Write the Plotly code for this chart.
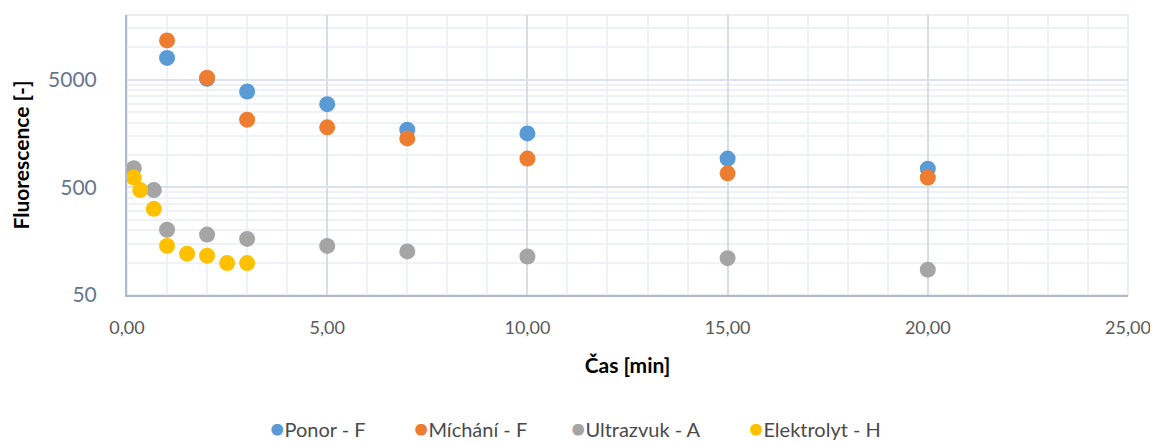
import plotly.graph_objects as go
import math

# ---- data ----
ponor_x = [1, 2, 3, 5, 7, 10, 15, 20]
ponor_y = [7980, 5100, 3890, 2965, 1717, 1587, 927, 747]

michani_x = [1, 2, 3, 5, 7, 10, 15, 20]
michani_y = [11600, 5220, 2128, 1807, 1426, 927, 676, 617]

ultrazvuk_x = [0.17, 0.67, 1, 2, 3, 5, 7, 10, 15, 20]
ultrazvuk_y = [753, 472, 202, 182, 166, 143, 127, 114, 110, 86]

elektrolyt_x = [0.17, 0.33, 0.67, 1, 1.5, 2, 2.5, 3]
elektrolyt_y = [617, 472, 316, 143, 121, 116, 99, 99]

series_names = ["Ponor - F", "Míchání - F", "Ultrazvuk - A", "Elektrolyt - H"]
series_colors = ["#5B9BD5", "#ED7D31", "#A5A5A5", "#FFC000"]

x_ticks = [0, 5, 10, 15, 20, 25]
x_tick_labels = ["0,00", "5,00", "10,00", "15,00", "20,00", "25,00"]
y_ticks = [50, 500, 5000]
y_tick_labels = ["50", "500", "5000"]

# minor log gridlines: multiples of the decade base (50, 500, 5000)
y_minor = [b * k for b in (50, 500, 5000) for k in range(2, 10)]
y_minor = [v for v in y_minor if v <= 20000]

font_family = "Lato, 'Open Sans', sans-serif"

# the page body has an 8 px margin, so the figure is 8 px smaller and offset
W, H = 1150, 435
ML, MR, MT, MB = 119, 30, 7, 148
plot_w = W - ML - MR
plot_h = H - MT - MB

fig = go.Figure()
for xs, ys, name, col in zip(
    [ponor_x, michani_x, ultrazvuk_x, elektrolyt_x],
    [ponor_y, michani_y, ultrazvuk_y, elektrolyt_y],
    series_names, series_colors):
    fig.add_trace(go.Scatter(
        x=xs, y=ys, name=name, mode="markers",
        marker=dict(color=col, size=16, line=dict(width=0)),
        showlegend=False,
    ))

fig.update_layout(
    width=W, height=H,
    margin=dict(l=ML, r=MR, t=MT, b=MB),
    paper_bgcolor="white", plot_bgcolor="white",
    font=dict(family=font_family, size=18, color="#595959"),
    showlegend=False,
    xaxis=dict(
        range=[0, 25], tickvals=x_ticks, ticktext=x_tick_labels,
        automargin=False,
        showgrid=True, gridcolor="#D8DDE5", gridwidth=1.5,
        minor=dict(dtick=1, showgrid=True, gridcolor="#EEF1F5", gridwidth=1.5),
        showline=True, linecolor="#AEB9CA", linewidth=2, mirror=False,
        zeroline=False, ticks="", ticklabelstandoff=15,
        tickfont=dict(size=18, color="#595959"),
        title=dict(text="<b>Čas [min]</b>", font=dict(size=21, color="#000000"), standoff=22),
    ),
    yaxis=dict(
        type="log", range=[math.log10(50), math.log10(20000)],
        tickvals=y_ticks, ticktext=y_tick_labels,
        automargin=False,
        showgrid=True, gridcolor="#DCE2EA", gridwidth=1.5,
        minor=dict(tickvals=y_minor, showgrid=True, gridcolor="#EEF1F5", gridwidth=1.5),
        showline=True, linecolor="#AEB9CA", linewidth=2,
        zeroline=False, ticks="", ticklabelstandoff=24,
        tickfont=dict(size=21, color="#66768C"),
        title=dict(text="<b>Fluorescence [-]</b>", font=dict(size=21, color="#000000"), standoff=24),
    ),
)

# light border on top and right of plot area
fig.add_shape(type="rect", xref="paper", yref="paper", x0=0, x1=1, y0=0, y1=1,
              line=dict(color="#E3E8EE", width=1.5), layer="below")

# Excel-style legend (text entries with coloured dots); positions in page pixels
legend_x_px = [268, 412, 569, 747]
legend_y_px = 427
for name, col, px in zip(series_names, series_colors, legend_x_px):
    fig.add_annotation(
        xref="paper", yref="paper",
        x=(px - 8 - ML) / plot_w, y=(MT + plot_h - (legend_y_px - 8)) / plot_h,
        xanchor="left", yanchor="middle", showarrow=False,
        text=f'<span style="color:{col};font-size:24px">●</span>{name}',
        font=dict(size=20, color="#4A4A4A", family=font_family),
    )

fig.write_html("out.html")
